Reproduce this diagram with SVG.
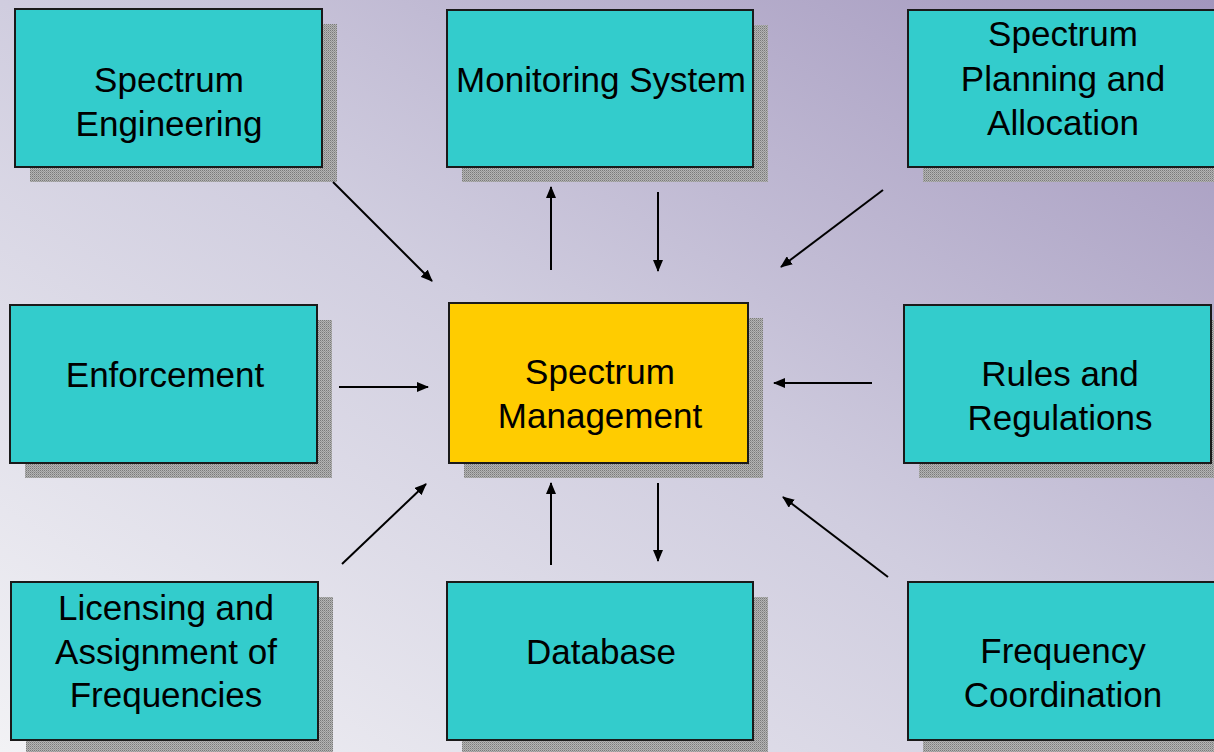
<svg xmlns="http://www.w3.org/2000/svg" width="1214" height="752" viewBox="0 0 1214 752">
<defs>
<linearGradient id="bg" x1="0" y1="1" x2="1" y2="0">
<stop offset="0" stop-color="#f2f2f5"/>
<stop offset="0.5" stop-color="#d0cddf"/>
<stop offset="1" stop-color="#a296bd"/>
</linearGradient>
<pattern id="dots" width="2" height="2" patternUnits="userSpaceOnUse">
<rect width="2" height="2" fill="#b4b4b4"/>
<rect width="1" height="1" fill="#7a7a7a"/>
<rect x="1" y="1" width="1" height="1" fill="#969696"/>
</pattern>
<marker id="ah" viewBox="0 0 12 10" refX="11" refY="5" markerWidth="12" markerHeight="10" markerUnits="userSpaceOnUse" orient="auto">
<path d="M0,0 L12,5 L0,10 Z" fill="#000"/>
</marker>
</defs>
<style>
.sh{fill:url(#dots)}
.box{fill:#33cccc;stroke:#1a1a1a;stroke-width:2}
.core{fill:#ffcc00;stroke:#1a1a1a;stroke-width:2}
text{font-family:"Liberation Sans",Arial,sans-serif;font-size:35px;fill:#000;text-anchor:middle}
.c line{stroke:#000;stroke-width:2;marker-end:url(#ah)}
</style>
<rect width="1214" height="752" fill="url(#bg)"/>

<g id="spectrum-engineering">
<rect class="sh" x="30" y="24" width="307" height="158"/>
<rect class="box" x="15" y="9" width="307" height="158"/>
<text x="169" y="92">Spectrum</text>
<text x="169" y="136">Engineering</text>
</g>
<g id="monitoring-system">
<rect class="sh" x="462" y="25" width="306" height="157"/>
<rect class="box" x="447" y="10" width="306" height="157"/>
<text x="601" y="92">Monitoring System</text>
</g>
<g id="spectrum-planning">
<rect class="sh" x="923" y="25" width="307" height="157"/>
<rect class="box" x="908" y="10" width="307" height="157"/>
<text x="1063" y="46">Spectrum</text>
<text x="1063" y="91">Planning and</text>
<text x="1063" y="135">Allocation</text>
</g>
<g id="enforcement">
<rect class="sh" x="25" y="320" width="307" height="158"/>
<rect class="box" x="10" y="305" width="307" height="158"/>
<text x="165" y="387">Enforcement</text>
</g>
<g id="spectrum-management">
<rect class="sh" x="464" y="318" width="299" height="160"/>
<rect class="core" x="449" y="303" width="299" height="160"/>
<text x="600" y="384">Spectrum</text>
<text x="600" y="428">Management</text>
</g>
<g id="rules-regulations">
<rect class="sh" x="919" y="320" width="307" height="158"/>
<rect class="box" x="904" y="305" width="307" height="158"/>
<text x="1060" y="386">Rules and</text>
<text x="1060" y="430">Regulations</text>
</g>
<g id="licensing">
<rect class="sh" x="26" y="597" width="307" height="158"/>
<rect class="box" x="11" y="582" width="307" height="158"/>
<text x="166" y="620">Licensing and</text>
<text x="166" y="664">Assignment of</text>
<text x="166" y="707">Frequencies</text>
</g>
<g id="database">
<rect class="sh" x="462" y="597" width="306" height="158"/>
<rect class="box" x="447" y="582" width="306" height="158"/>
<text x="601" y="664">Database</text>
</g>
<g id="frequency-coordination">
<rect class="sh" x="923" y="597" width="307" height="158"/>
<rect class="box" x="908" y="582" width="307" height="158"/>
<text x="1063" y="663">Frequency</text>
<text x="1063" y="707">Coordination</text>
</g>

<g id="connectors" class="c">
<line x1="333" y1="182" x2="432" y2="281"/>
<line x1="551" y1="270" x2="551" y2="187"/>
<line x1="658" y1="192" x2="658" y2="271"/>
<line x1="883" y1="190" x2="781" y2="267"/>
<line x1="339" y1="387" x2="428" y2="387"/>
<line x1="872" y1="383" x2="774" y2="383"/>
<line x1="342" y1="564" x2="426" y2="484"/>
<line x1="551" y1="565" x2="551" y2="483"/>
<line x1="658" y1="483" x2="658" y2="561"/>
<line x1="888" y1="577" x2="783" y2="497"/>
</g>
</svg>
